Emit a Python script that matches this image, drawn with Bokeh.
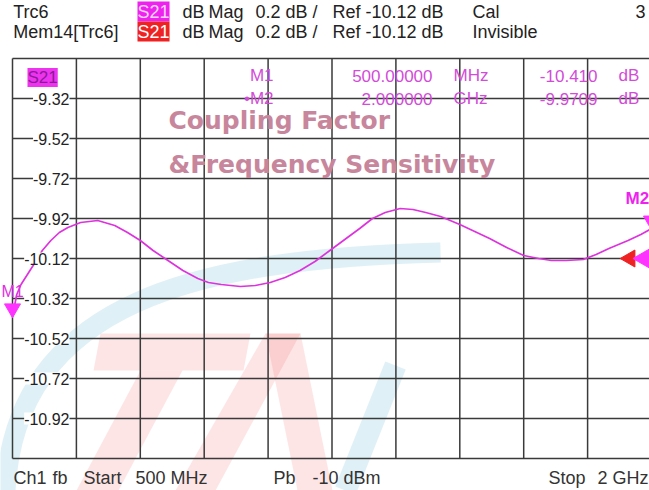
import math
from bokeh.plotting import figure
from bokeh.models import Label, LabelSet, ColumnDataSource
from bokeh.core.properties import value
from bokeh.embed import file_html
from bokeh.resources import INLINE

# ---------------- data ----------------
freq_mhz = [500, 510, 520, 535, 550, 570, 590, 610, 630, 660, 700, 740, 770, 800,
            830, 865, 900, 935, 960, 990, 1035, 1070, 1105, 1140, 1175, 1210, 1245,
            1280, 1315, 1345, 1375, 1410, 1440, 1470, 1505, 1550, 1590, 1620, 1660,
            1700, 1735, 1765, 1800, 1840, 1870, 1900, 1945, 1975, 2000]
s21_db = [-10.41, -10.30, -10.25, -10.20, -10.15, -10.08, -10.03, -9.99, -9.965, -9.94,
          -9.93, -9.955, -9.99, -10.03, -10.08, -10.13, -10.18, -10.22, -10.24, -10.25,
          -10.26, -10.255, -10.24, -10.215, -10.18, -10.135, -10.08, -10.025, -9.97,
          -9.92, -9.89, -9.87, -9.875, -9.89, -9.91, -9.95, -9.99, -10.02, -10.065,
          -10.105, -10.12, -10.13, -10.13, -10.125, -10.10, -10.07, -10.03, -10.00, -9.971]

start_mhz = 500
stop_mhz = 2000
ref_level_db = -10.12
scale_db_per_div = 0.2
n_div = 10

y_tick_labels = ["-9.32", "-9.52", "-9.72", "-9.92", "-10.12", "-10.32", "-10.52", "-10.72", "-10.92"]
y_tick_values = [-9.32, -9.52, -9.72, -9.92, -10.12, -10.32, -10.52, -10.72, -10.92]

marker_names = ["M1", "\u2022M2"]
marker_freq_mhz = [500, 2000]
marker_db = [-10.410, -9.9709]
marker_freq_text = ["500.00000", "2.000000"]
marker_unit_text = ["MHz", "GHz"]
marker_db_text = ["-10.410", "-9.9709"]

# ---------------- layout ----------------
W, H = 649, 490
GRID_LEFT, GRID_TOP, GRID_BOTTOM = 12, 58, 458   # pixel position of the graticule
px_per_div_x = 63.9
px_per_div_y = (GRID_BOTTOM - GRID_TOP) / n_div
mhz_per_div = (stop_mhz - start_mhz) / n_div
mhz_per_px = mhz_per_div / px_per_div_x
db_per_px = scale_db_per_div / px_per_div_y
g_bottom = ref_level_db - scale_db_per_div * n_div / 2
g_top = ref_level_db + scale_db_per_div * n_div / 2

x_lo = start_mhz - GRID_LEFT * mhz_per_px
x_hi = x_lo + W * mhz_per_px
y_lo = g_bottom - (H - GRID_BOTTOM) * db_per_px
y_hi = g_top + GRID_TOP * db_per_px


def sx(ix):
    return ix


def sy(iy):
    return H - iy


def dx(ix):
    return x_lo + ix * mhz_per_px


def dy(iy):
    return y_lo + (H - iy) * db_per_px


p = figure(width=W, height=H, x_range=(x_lo, x_hi), y_range=(y_lo, y_hi),
           x_axis_type=None, y_axis_type=None, toolbar_location=None,
           output_backend="svg", min_border=0)
p.outline_line_color = None
p.background_fill_color = "white"
p.border_fill_color = "white"

FONT = "Liberation Sans"
MAG = "#d24cd8"

# ---------------- watermark shapes ----------------
p.bezier(x0=[dx(5)], y0=[dy(490)], x1=[dx(440)], y1=[dy(252)],
         cx0=[dx(15)], cy0=[dy(300)], cx1=[dx(200)], cy1=[dy(258)],
         line_color="#7fc4dc", line_alpha=0.25, line_width=20, level="image")
p.segment(x0=[dx(395)], y0=[dy(365)], x1=[dx(345)], y1=[dy(490)],
          line_color="#7fc4dc", line_alpha=0.25, line_width=22, level="image")
red_shapes_x = [[100, 250, 243, 93], [140, 182, 118, 76],
                [265, 300, 215, 175], [265, 300, 332, 297]]
red_shapes_y = [[333, 333, 370, 370], [370, 370, 490, 490],
                [333, 333, 490, 490], [333, 333, 490, 490]]
p.patches([[dx(v) for v in xs] for xs in red_shapes_x],
          [[dy(v) for v in ys] for ys in red_shapes_y],
          fill_color="#f05050", fill_alpha=0.15, line_color=None, level="image")

# ---------------- grid (graticule) ----------------
x_grid = [start_mhz + i * mhz_per_div for i in range(n_div + 1)]
y_grid = [g_bottom + k * scale_db_per_div for k in range(n_div + 1)]
GRID = "#3a3a3a"
p.segment(x0=x_grid, y0=[g_bottom] * len(x_grid), x1=x_grid, y1=[g_top] * len(x_grid),
          line_color=GRID, line_width=1.5, level="underlay")
p.segment(x0=[start_mhz] * len(y_grid), y0=y_grid, x1=[stop_mhz] * len(y_grid), y1=y_grid,
          line_color=GRID, line_width=1.5, level="underlay")

# ---------------- trace and markers ----------------
p.line(freq_mhz, s21_db, line_color="#dd33dd", line_width=1.7)
p.scatter(marker_freq_mhz, [d + 8 * db_per_px for d in marker_db], marker="inverted_triangle",
          size=16, fill_color="#ff33ff", line_color="#ff33ff")
p.scatter([dx(629.5)], [ref_level_db], marker="triangle", angle=math.pi / 2, size=17,
          fill_color="#ee2222", line_color="#ee2222")
p.scatter([dx(644)], [ref_level_db], marker="triangle", angle=math.pi / 2, size=20,
          fill_color="#ff33ff", line_color="#ff33ff")


# ---------------- texts ----------------
def lab(text, ix, iy, color="#222222", size="18px", align="left", bg=None, font=FONT,
        style=None, level="annotation"):
    kw = {}
    if bg is not None:
        kw["background_fill_color"] = bg
    if style is not None:
        kw["text_font_style"] = style
    p.add_layout(Label(x=sx(ix), y=sy(iy), x_units="screen", y_units="screen", text=text,
                       text_font=font, text_font_size=size, text_color=color,
                       text_align=align, text_baseline="middle", level=level, **kw))


rows_y = [75, 98]
for i in range(2):
    lab(marker_names[i], 273, rows_y[i], color=MAG, size="17px", align="right")
    lab(marker_freq_text[i], 432, rows_y[i], color=MAG, size="17px", align="right")
    lab(marker_unit_text[i], 453, rows_y[i], color=MAG, size="17px")
    lab(marker_db_text[i], 597, rows_y[i], color=MAG, size="17px", align="right")
    lab("dB", 618, rows_y[i], color=MAG, size="17px")

# y tick labels inside the graticule with white background
tick_src = ColumnDataSource(dict(y=y_tick_values, text=y_tick_labels))
p.add_layout(LabelSet(x=sx(69), y="y", x_units="screen", y_units="data", text="text",
                      source=tick_src, text_font=value(FONT), text_font_size=value("16px"),
                      text_color="#222222", text_align="right", text_baseline="middle",
                      background_fill_color="white"))

lab("S21", 27, 77, color="#8a1a9a", size="17px", bg="#ee33ee")
lab("M1", 1, 291, color="#e030e0", size="16px")

# header
lab("Trc6", 12.7, 11)
lab("S21", 137, 11, color="#ffd6ff", bg="#ee22ee")
lab("dB", 182, 11)
lab("Mag", 208, 11)
lab("0.2 dB /", 255, 11)
lab("Ref -10.12 dB", 332, 11)
lab("Cal", 472, 11)
lab("3", 645, 11, align="right")
lab("Mem14[Trc6]", 12.7, 31)
lab("S21", 137, 31, color="white", bg="#ee2222")
lab("dB", 182, 31)
lab("Mag", 208, 31)
lab("0.2 dB /", 255, 31)
lab("Ref -10.12 dB", 332, 31)
lab("Invisible", 472, 31)

# footer
FT = "#333333"
lab("Ch1", 13, 477, color=FT)
lab("fb", 52, 477, color=FT)
lab("Start", 83, 477, color=FT)
lab("500 MHz", 135, 477, color=FT)
lab("Pb", 273, 477, color=FT)
lab("-10 dBm", 312, 477, color=FT)
lab("Stop", 548, 477, color=FT)
lab("2 GHz", 648, 477, color=FT, align="right")

# bold texts
lab("Coupling Factor", 168, 120, color="#c8869c", size="25px", font="DejaVu Sans",
    style="bold", level="overlay")
lab("&Frequency Sensitivity", 168, 164, color="#c8869c", size="25px", font="DejaVu Sans",
    style="bold", level="overlay")
lab("M2", 625, 198, color="#ee22ee", size="17px", style="bold", level="overlay")

open("out.html", "w").write(file_html(p, INLINE))
